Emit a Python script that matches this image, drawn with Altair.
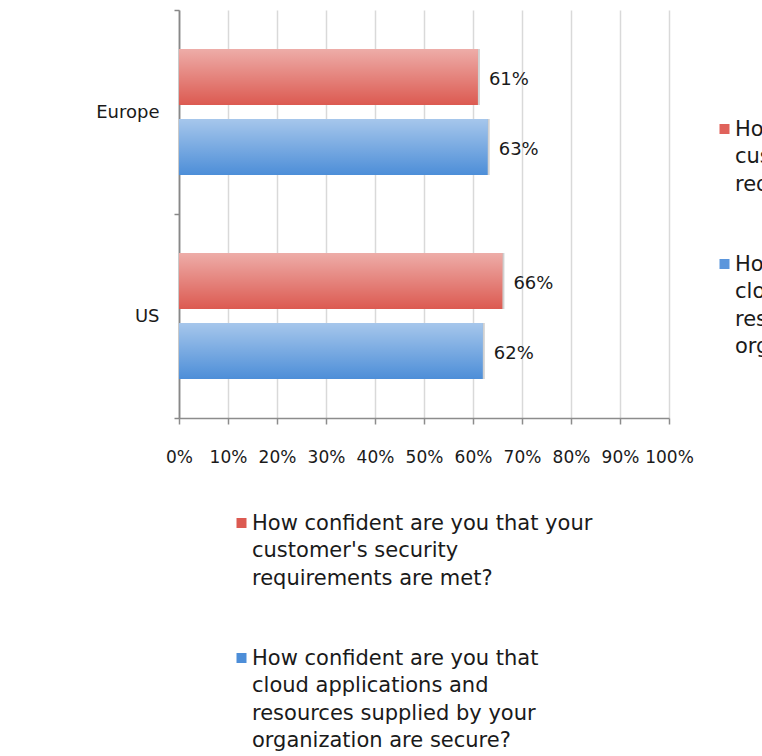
import altair as alt
import pandas as pd

regions = ["Europe", "US"]
questions = [
    "How confident are you that your\ncustomer's security\nrequirements are met?",
    "How confident are you that\ncloud applications and\nresources supplied by your\norganization are secure?",
]
q1_values = [0.61, 0.66]
q2_values = [0.63, 0.62]
series_colors = ["#dc5a51", "#4d8ed8"]
legend_colors = ["#e0625b", "#5b96dc"]

rows = []
for i, r in enumerate(regions):
    rows.append({"region": r, "series": questions[0], "series_r": questions[0], "value": q1_values[i]})
    rows.append({"region": r, "series": questions[1], "series_r": questions[1], "value": q2_values[i]})
df = pd.DataFrame(rows)

FONT = "DejaVu Sans"
TXT = "#1a1a1a"
SYM = "M-1,1.1L1,1.1L1,3.1L-1,3.1Z"

x = alt.X(
    "value:Q",
    scale=alt.Scale(domain=[0, 1], nice=False),
    axis=alt.Axis(
        title=None,
        format=".0%",
        values=[0, 0.1, 0.2, 0.3, 0.4, 0.5, 0.6, 0.7, 0.8, 0.9, 1.0],
        labelOverlap=False,
        labelFlush=False,
        grid=True,
        gridColor="#d9d9d9",
        gridWidth=1.5,
        domainColor="#8c8c8c",
        domainWidth=1.5,
        tickColor="#8c8c8c",
        tickWidth=1.5,
        tickSize=6,
        labelPadding=25,
        labelFontSize=17,
        labelFont=FONT,
        labelColor=TXT,
    ),
)
y = alt.Y(
    "region:N",
    sort=regions,
    scale=alt.Scale(paddingInner=0, paddingOuter=0),
    axis=alt.Axis(
        title=None,
        tickBand="extent",
        grid=False,
        domainColor="#888888",
        domainWidth=1.8,
        tickColor="#888888",
        tickWidth=1.5,
        tickSize=5,
        labelPadding=15,
        labelFontSize=18,
        labelFont=FONT,
        labelColor=TXT,
    ),
)
yo = alt.YOffset("series:N", sort=questions, scale=alt.Scale(paddingInner=0.2, paddingOuter=0.557))


def legend_props(lx, ly):
    return dict(
        title=None,
        orient="none",
        legendX=lx,
        legendY=ly,
        direction="vertical",
        symbolType=SYM,
        symbolSize=100,
        symbolStrokeWidth=0,
        labelFont=FONT,
        labelFontSize=21,
        labelColor=TXT,
        labelLimit=600,
        labelOffset=0,
        labelBaseline="top",
        labelExpr="split(datum.label, '\\n')",
        rowPadding=48,
    )


base = alt.Chart(df)

shadow = base.mark_bar(color="#9a9a9a", opacity=0.45, xOffset=2, yOffset=2).encode(x=x, y=y, yOffset=yo)

bars = base.mark_bar().encode(
    x=x,
    y=y,
    yOffset=yo,
    color=alt.Color(
        "series:N",
        sort=questions,
        scale=alt.Scale(domain=questions, range=series_colors),
        legend=alt.Legend(**legend_props(52, 492)),
    ),
)

gloss = base.mark_bar(
    color={
        "gradient": "linear",
        "x1": 0, "y1": 0, "x2": 0, "y2": 1,
        "stops": [
            {"offset": 0, "color": "rgba(255,255,255,0.5)"},
            {"offset": 1, "color": "rgba(255,255,255,0)"},
        ],
    }
).encode(x=x, y=y, yOffset=yo)

# second (clipped) copy of the legend at the right edge, as in the reference screenshot
ghost = base.mark_bar().encode(
    x=x,
    x2="value:Q",
    y=y,
    yOffset=yo,
    fill=alt.Fill(
        "series_r:N",
        sort=questions,
        scale=alt.Scale(domain=questions, range=legend_colors),
        legend=alt.Legend(**legend_props(535, 98)),
    ),
)

labels = base.mark_text(align="left", baseline="middle", dx=11, dy=3, fontSize=18, font=FONT, color=TXT).encode(
    x=x, y=y, yOffset=yo, text=alt.Text("value:Q", format=".0%")
)

chart = (
    alt.layer(shadow, bars, gloss, ghost, labels)
    .resolve_scale(color="independent", fill="independent")
    .properties(
        width=490,
        height=408,
        padding={"left": 179, "top": 10, "right": 93, "bottom": 338},
        autosize=alt.AutoSizeParams(type="none"),
        background="white",
    )
    .configure(style={"guide-label": {"lineHeight": 27.5}})
    .configure_view(stroke=None)
)

chart.save("out.html", embed_options={"renderer": "svg", "actions": False})
